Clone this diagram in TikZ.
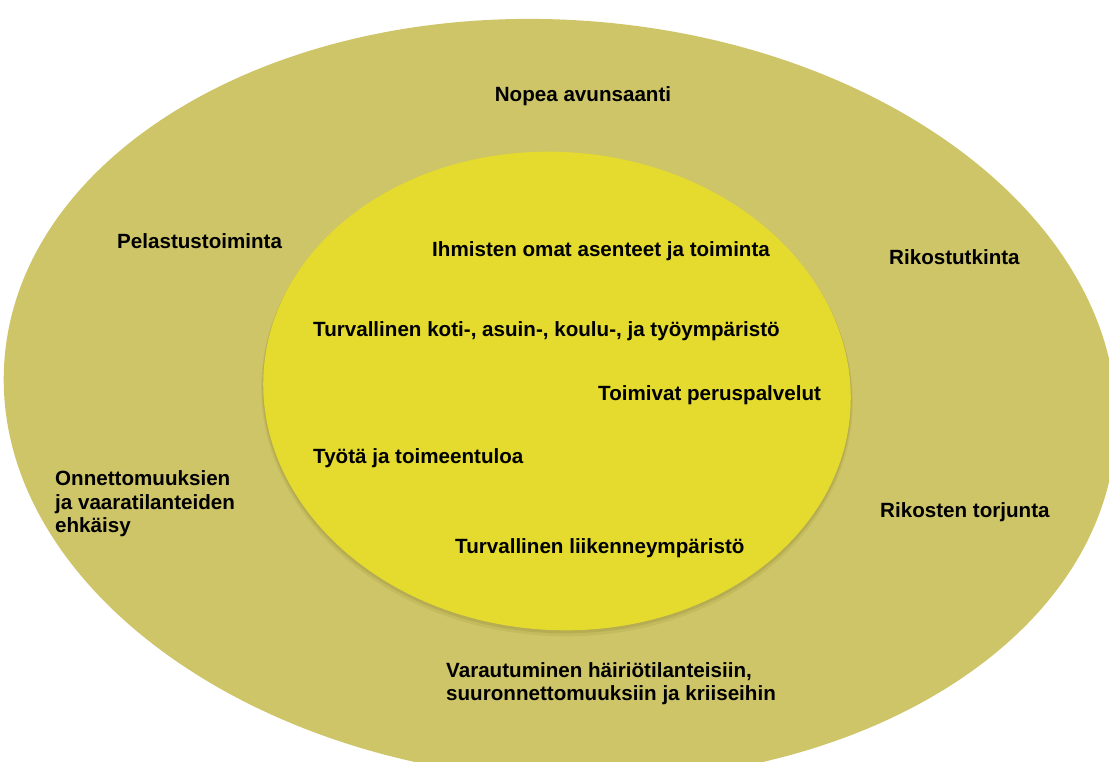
\documentclass[tikz,border=0pt]{standalone}
\usepackage{fontspec}
\setmainfont{Liberation Sans}
\definecolor{outerc}{RGB}{206,197,104}
\definecolor{innerc}{RGB}{228,219,46}
\definecolor{shadowc}{RGB}{140,130,50}
\begin{document}
\begin{tikzpicture}[x=1pt,y=-1pt,
  lbl/.style={font=\bfseries\fontsize{20.6}{24}\selectfont, inner sep=0pt, text=black}]
\useasboundingbox (0,0) rectangle (1109,762);
\fill[white] (0,0) rectangle (1109,762);
% outer ellipse
\fill[outerc, rotate around={-4:(560,400)}] (560,400) ellipse [x radius=557, y radius=380];
% shadow of inner ellipse
\fill[shadowc, opacity=0.15, rotate around={-4:(557,395)}] (557,395) ellipse [x radius=296, y radius=241];
\fill[shadowc, opacity=0.25, rotate around={-4:(557,393)}] (557,393) ellipse [x radius=295, y radius=240];
% inner ellipse
\fill[innerc, rotate around={-4:(557,391)}] (557,391) ellipse [x radius=294, y radius=239];
% outer ring labels
\node[lbl, anchor=base] (nopea) at (583,102) {Nopea avunsaanti};
\node[lbl, anchor=base west] (pelastus) at (117,249) {Pelastustoiminta};
\node[lbl, anchor=base west] (rikostut) at (889,265) {Rikostutkinta};
\node[lbl, anchor=base west] (onn1) at (55,485) {Onnettomuuksien};
\node[lbl, anchor=base west] (onn2) at (55,509) {ja vaaratilanteiden};
\node[lbl, anchor=base west] (onn3) at (55,532) {ehkäisy};
\node[lbl, anchor=base west] (rikostor) at (880,517) {Rikosten torjunta};
\node[lbl, anchor=base west] (var1) at (446,677) {Varautuminen häiriötilanteisiin,};
\node[lbl, anchor=base west] (var2) at (446,700) {suuronnettomuuksiin ja kriiseihin};
% inner labels
\node[lbl, anchor=base west] (ihm) at (432,257) {Ihmisten omat asenteet ja toiminta};
\node[lbl, anchor=base west] (koti) at (313,336) {Turvallinen koti-, asuin-, koulu-, ja työympäristö};
\node[lbl, anchor=base west] (perus) at (598,400) {Toimivat peruspalvelut};
\node[lbl, anchor=base west] (tyo) at (313,463) {Työtä ja toimeentuloa};
\node[lbl, anchor=base west] (liik) at (455,553) {Turvallinen liikenneympäristö};
\end{tikzpicture}
\end{document}
